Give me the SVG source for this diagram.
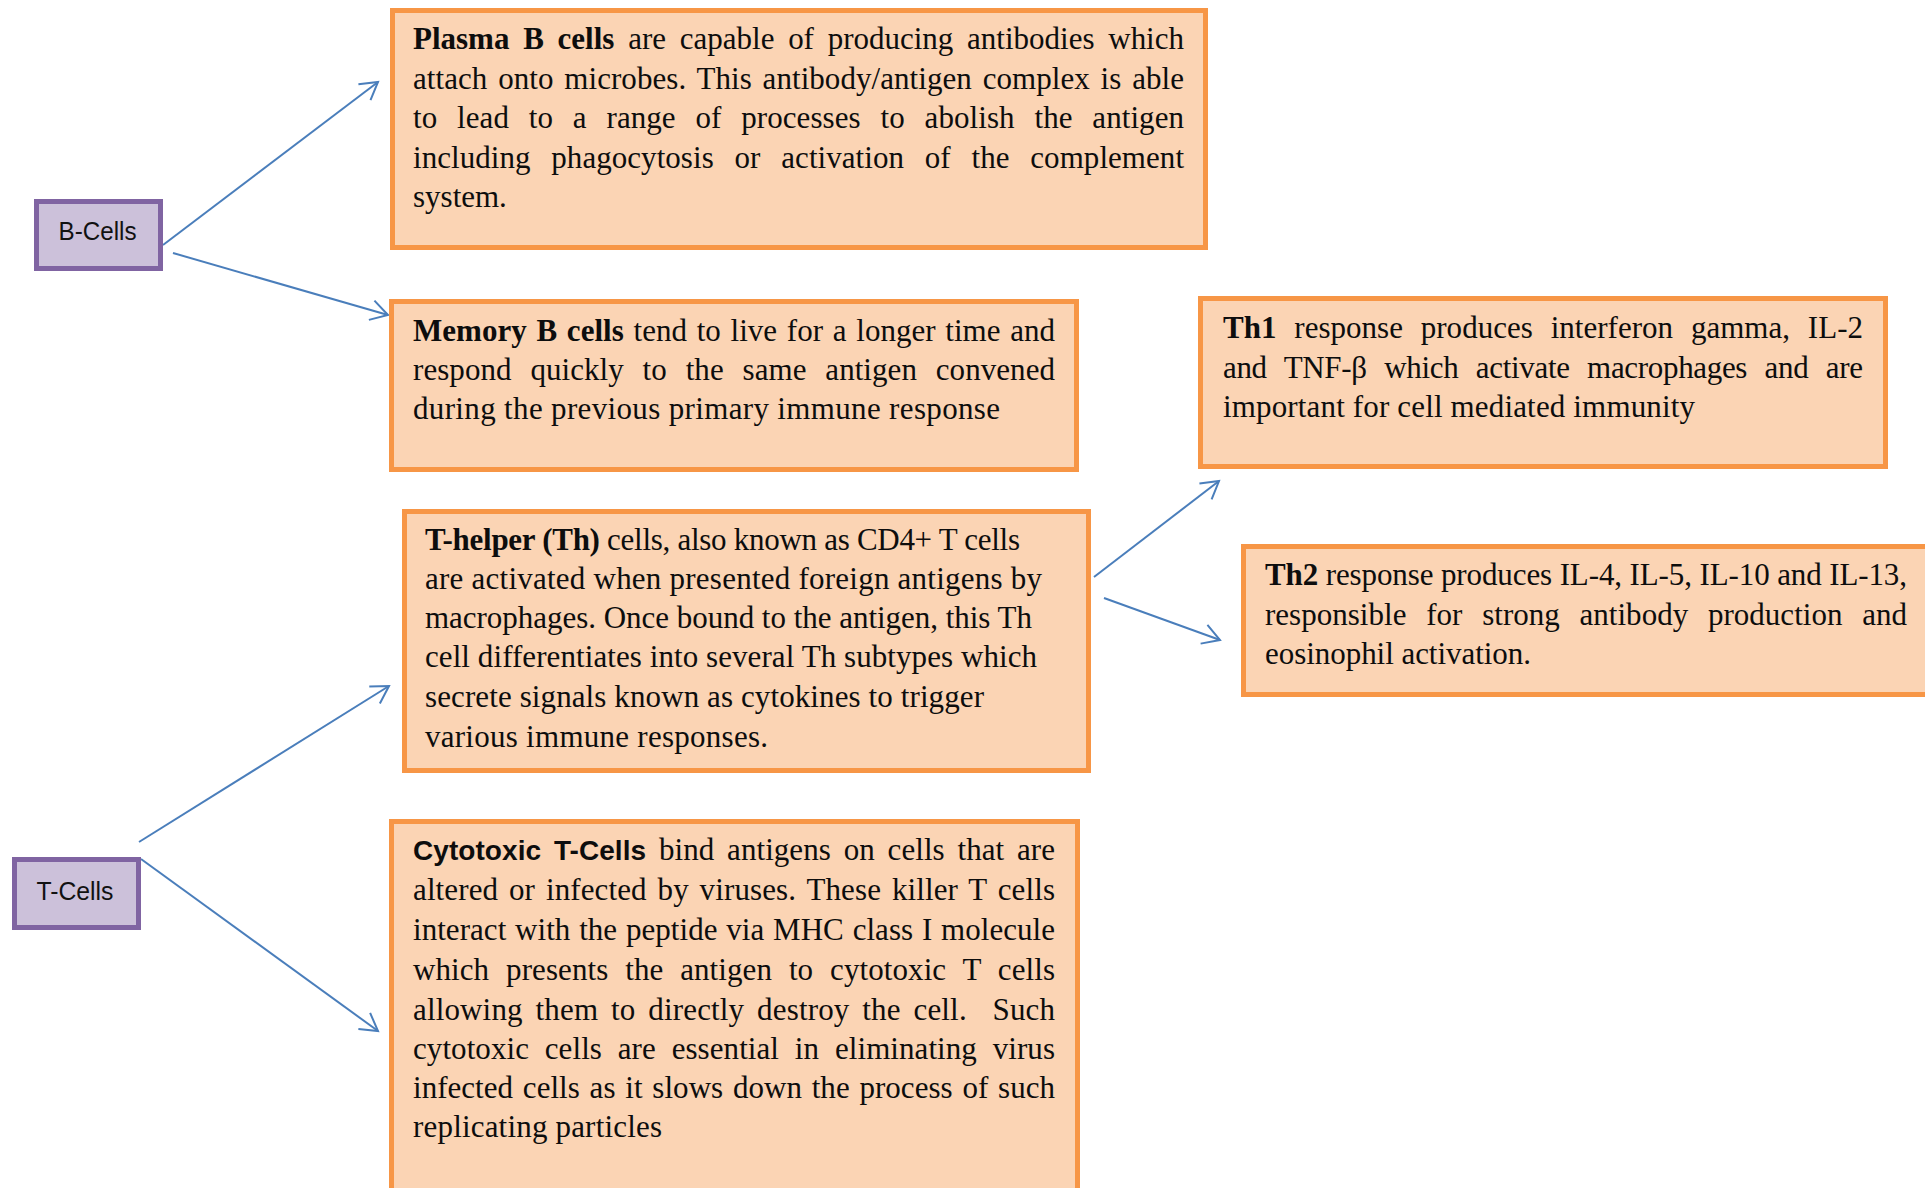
<svg xmlns="http://www.w3.org/2000/svg" width="1925" height="1188" viewBox="0 0 1925 1188">
  <style>
    .card { fill: #FBD4B4; stroke: #F79646; stroke-width: 5; }
    .cell { fill: #CCC1DA; stroke: #8064A2; stroke-width: 5; }
    .body { font-family: "Liberation Serif", "Times New Roman", serif; font-size: 31px; fill: #0d0d0d; }
    .b { font-weight: bold; }
    .bs { font-family: "Liberation Sans", Arial, sans-serif; font-weight: bold; font-size: 28px; }
    .lbl { font-family: "Liberation Sans", Arial, sans-serif; font-size: 26px; fill: #111; text-anchor: middle; }
    .link { fill: none; stroke: #4A7EBB; stroke-width: 2; marker-end: url(#open); }
  </style>
  <defs>
    <marker id="open" markerUnits="userSpaceOnUse" viewBox="-20 -12 24 24" refX="0" refY="0" markerWidth="24" markerHeight="24" orient="auto" overflow="visible">
      <path d="M -17,-10 L 0,0 L -17,10" fill="none" stroke="#4A7EBB" stroke-width="2" stroke-linejoin="miter"/>
    </marker>
  </defs>
  <rect width="1925" height="1188" fill="#ffffff"/>

  <!-- connectors -->
  <g id="connectors">
    <line class="link" x1="163" y1="245" x2="378" y2="82"/>
    <line class="link" x1="173" y1="253" x2="388" y2="315"/>
    <line class="link" x1="139" y1="842" x2="389" y2="686"/>
    <line class="link" x1="141" y1="859" x2="378" y2="1031"/>
    <line class="link" x1="1094" y1="577" x2="1219" y2="481"/>
    <line class="link" x1="1104" y1="598" x2="1220" y2="640"/>
  </g>

  <g id="b-cells">
    <rect class="cell" x="36.5" y="201.5" width="124" height="67"/>
    <text class="lbl" x="97.5" y="240" textLength="78" lengthAdjust="spacingAndGlyphs">B-Cells</text>
  </g>

  <g id="t-cells">
    <rect class="cell" x="14.5" y="859.5" width="124" height="68"/>
    <text class="lbl" x="75" y="900" textLength="77" lengthAdjust="spacingAndGlyphs">T-Cells</text>
  </g>

  <!-- justified lines: word-spacing opens the gaps, textLength trims the rest -->
  <g id="plasma-b">
    <rect class="card" x="392.5" y="10.5" width="813" height="237"/>
    <g class="body">
      <text x="413" y="49" word-spacing="6" textLength="771" lengthAdjust="spacing"><tspan class="b">Plasma B cells</tspan> are capable of producing antibodies which</text>
      <text x="413" y="89" word-spacing="3" textLength="771" lengthAdjust="spacing">attach onto microbes. This antibody/antigen complex is able</text>
      <text x="413" y="128" word-spacing="12" textLength="771" lengthAdjust="spacing">to lead to a range of processes to abolish the antigen</text>
      <text x="413" y="168" word-spacing="13" textLength="771" lengthAdjust="spacing">including phagocytosis or activation of the complement</text>
      <text x="413" y="207">system.</text>
    </g>
  </g>

  <g id="memory-b">
    <rect class="card" x="391.5" y="301.5" width="685" height="168"/>
    <g class="body">
      <text x="413" y="341" word-spacing="2" textLength="642" lengthAdjust="spacing"><tspan class="b">Memory B cells</tspan> tend to live for a longer time and</text>
      <text x="413" y="380" word-spacing="11" textLength="642" lengthAdjust="spacing">respond quickly to the same antigen convened</text>
      <text x="413" y="419" textLength="587" lengthAdjust="spacing">during the previous primary immune response</text>
    </g>
  </g>

  <g id="t-helper">
    <rect class="card" x="404.5" y="511.5" width="684" height="259"/>
    <g class="body">
      <text x="425" y="550" textLength="595" lengthAdjust="spacing"><tspan class="b">T-helper (Th)</tspan> cells, also known as CD4+ T cells</text>
      <text x="425" y="589" textLength="617" lengthAdjust="spacing">are activated when presented foreign antigens by</text>
      <text x="425" y="628" textLength="607" lengthAdjust="spacing">macrophages. Once bound to the antigen, this Th</text>
      <text x="425" y="667" textLength="612" lengthAdjust="spacing">cell differentiates into several Th subtypes which</text>
      <text x="425" y="707" textLength="559" lengthAdjust="spacing">secrete signals known as cytokines to trigger</text>
      <text x="425" y="747" textLength="343" lengthAdjust="spacing">various immune responses.</text>
    </g>
  </g>

  <g id="cytotoxic-t">
    <rect class="card" x="391.5" y="821.5" width="686" height="380"/>
    <g class="body">
      <text x="413" y="860" word-spacing="5" textLength="642" lengthAdjust="spacing"><tspan class="bs">Cytotoxic T-Cells</tspan> bind antigens on cells that are</text>
      <text x="413" y="900" word-spacing="3" textLength="642" lengthAdjust="spacing">altered or infected by viruses. These killer T cells</text>
      <text x="413" y="940" word-spacing="1" textLength="642" lengthAdjust="spacing">interact with the peptide via MHC class I molecule</text>
      <text x="413" y="980" word-spacing="9" textLength="642" lengthAdjust="spacing">which presents the antigen to cytotoxic T cells</text>
      <text x="413" y="1020" word-spacing="5" textLength="642" lengthAdjust="spacing" xml:space="preserve">allowing them to directly destroy the cell.  Such</text>
      <text x="413" y="1059" word-spacing="8" textLength="642" lengthAdjust="spacing">cytotoxic cells are essential in eliminating virus</text>
      <text x="413" y="1098" word-spacing="2" textLength="642" lengthAdjust="spacing">infected cells as it slows down the process of such</text>
      <text x="413" y="1137" textLength="249" lengthAdjust="spacing">replicating particles</text>
    </g>
  </g>

  <g id="th1">
    <rect class="card" x="1200.5" y="298.5" width="685" height="168"/>
    <g class="body">
      <text x="1223" y="338" word-spacing="10" textLength="640" lengthAdjust="spacing"><tspan class="b">Th1</tspan> response produces interferon gamma, IL-2</text>
      <text x="1223" y="378" word-spacing="10" textLength="640" lengthAdjust="spacing">and TNF-β which activate macrophages and are</text>
      <text x="1223" y="417" textLength="472" lengthAdjust="spacing">important for cell mediated immunity</text>
    </g>
  </g>

  <g id="th2">
    <rect class="card" x="1243.5" y="546.5" width="700" height="148"/>
    <g class="body">
      <text x="1265" y="585" textLength="642" lengthAdjust="spacing"><tspan class="b">Th2</tspan> response produces IL-4, IL-5, IL-10 and IL-13,</text>
      <text x="1265" y="625" word-spacing="12" textLength="642" lengthAdjust="spacing">responsible for strong antibody production and</text>
      <text x="1265" y="664" textLength="266" lengthAdjust="spacing">eosinophil activation.</text>
    </g>
  </g>
</svg>
